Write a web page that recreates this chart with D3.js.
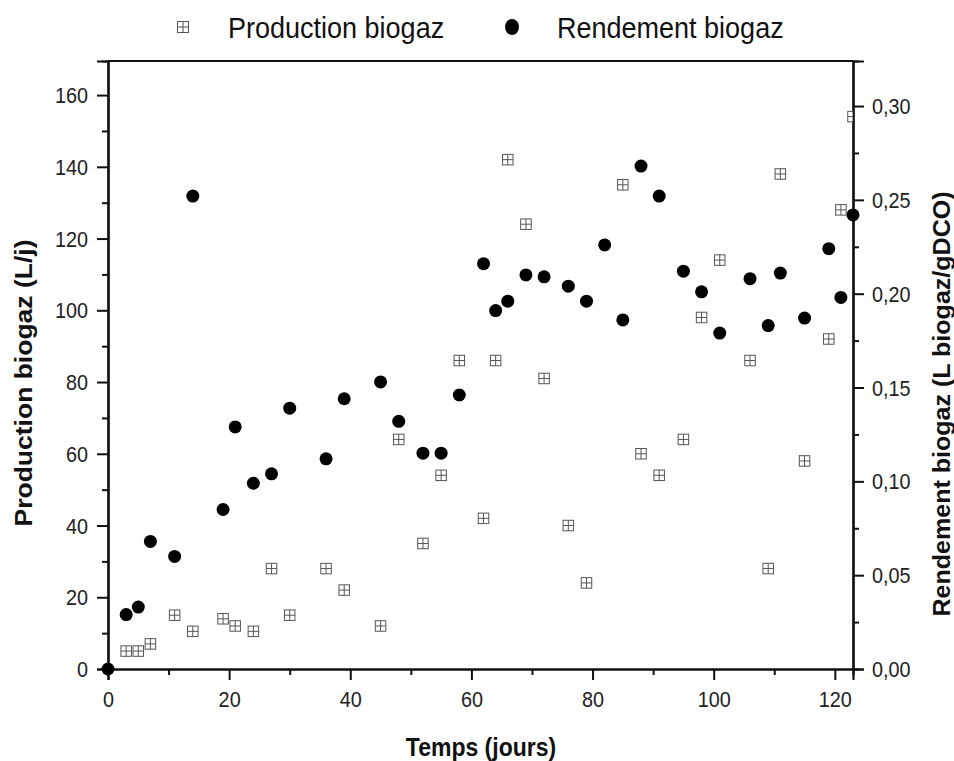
<!DOCTYPE html>
<html>
<head>
<meta charset="utf-8">
<script src="https://cdn.jsdelivr.net/npm/d3@7"></script>
<style>
    body { margin: 0; background: #fff; }
    svg text { font-family: "Liberation Sans", Arial, sans-serif; fill: #111; }
</style>
</head>
<body>
<div id="chart"></div>
<script>
// production biogaz (L/j)
let prodDays = [3, 5, 7, 11, 14, 19, 21, 24, 27, 30, 36, 39, 45, 48, 52, 55, 58, 62, 64, 66, 69, 72, 76, 79, 85, 88, 91, 95, 98, 101, 106, 109, 111, 115, 119, 121, 123];
let prodValues = [5, 5, 7, 15, 10.5, 14, 12, 10.5, 28, 15, 28, 22, 12, 64, 35, 54, 86, 42, 86, 142, 124, 81, 40, 24, 135, 60, 54, 64, 98, 114, 86, 28, 138, 58, 92, 128, 154];

// rendement biogaz (L biogaz/gDCO)
let rendDays = [0, 3, 5, 7, 11, 14, 19, 21, 24, 27, 30, 36, 39, 45, 48, 52, 55, 58, 62, 64, 66, 69, 72, 76, 79, 82, 85, 88, 91, 95, 98, 101, 106, 109, 111, 115, 119, 121, 123];
let rendValues = [0, 0.029, 0.033, 0.068, 0.060, 0.252, 0.085, 0.129, 0.099, 0.104, 0.139, 0.112, 0.144, 0.153, 0.132, 0.115, 0.115, 0.146, 0.216, 0.191, 0.196, 0.210, 0.209, 0.204, 0.196, 0.226, 0.186, 0.268, 0.252, 0.212, 0.201, 0.179, 0.208, 0.183, 0.211, 0.187, 0.224, 0.198, 0.242];

let xTicks = [0, 20, 40, 60, 80, 100, 120];
let leftTicks = [0, 20, 40, 60, 80, 100, 120, 140, 160];
let rightTicks = [0, 0.05, 0.10, 0.15, 0.20, 0.25, 0.30];

let legendLabels = ['Production biogaz', 'Rendement biogaz'];

let width = 954,
    height = 761,
    margin = { top: 61, right: 101, bottom: 92, left: 108 },
    w = width - margin.left - margin.right,
    h = height - margin.top - margin.bottom;

let svg = d3.select('#chart').append('svg')
    .attr('width', width)
    .attr('height', height);

let x = d3.scaleLinear().domain([0, 123]).range([0, w]);
let yLeft = d3.scaleLinear().domain([0, 169.5]).range([h, 0]);
let yRight = d3.scaleLinear().domain([0, 0.324]).range([h, 0]);

let comma = d3.formatLocale({ decimal: ',', thousands: ' ', grouping: [3], currency: ['', ''] }).format('.2f');

// the original text is a bit narrow and tall, squeeze it
function squeeze(sel, ratio) {
    sel.each(function() {
        let l = this.getComputedTextLength();
        d3.select(this).attr('textLength', l * ratio).attr('lengthAdjust', 'spacingAndGlyphs');
    });
}

let g = svg.append('g').attr('transform', 'translate(' + margin.left + ',' + margin.top + ')');

// minor ticks first, then major
function minor(axis, values) {
    return axis.tickValues(values).tickSize(6).tickFormat('');
}

g.append('g').attr('class', 'axis')
    .attr('transform', 'translate(0,' + h + ')')
    .call(minor(d3.axisBottom(x), d3.range(10, 123, 20)));
g.append('g').attr('class', 'axis xaxis')
    .attr('transform', 'translate(0,' + h + ')')
    .call(d3.axisBottom(x).tickValues(xTicks).tickSize(11).tickPadding(19));

g.append('g').attr('class', 'axis')
    .call(minor(d3.axisLeft(yLeft), d3.range(10, 170, 20)));
g.append('g').attr('class', 'axis')
    .call(d3.axisLeft(yLeft).tickValues(leftTicks).tickSize(11).tickPadding(9));

g.append('g').attr('class', 'axis')
    .attr('transform', 'translate(' + w + ',0)')
    .call(minor(d3.axisRight(yRight), d3.range(0.025, 0.32, 0.05)));
g.append('g').attr('class', 'axis')
    .attr('transform', 'translate(' + w + ',0)')
    .call(d3.axisRight(yRight).tickValues(rightTicks).tickSize(11).tickPadding(8).tickFormat(comma));

// top border
g.append('line')
    .attr('x1', 0).attr('x2', w)
    .attr('y1', 0).attr('y2', 0)
    .style('stroke', '#111').style('stroke-width', 2.2);

g.selectAll('.axis path').style('stroke', '#111').style('stroke-width', 2.2);
g.selectAll('.axis line').style('stroke', '#111').style('stroke-width', 2);
g.selectAll('.axis text').style('font-size', '22px').style('fill', '#222');
g.selectAll('.axis .tick text').attr('dy', null).style('dominant-baseline', 'central');
squeeze(g.selectAll('.axis .tick text'), 0.9);

g.append('clipPath').attr('id', 'plotclip')
    .append('rect').attr('width', w).attr('height', h);

function squareMarker(sel, size) {
    sel.append('rect')
        .attr('x', -size / 2).attr('y', -size / 2)
        .attr('width', size).attr('height', size)
        .style('fill', '#fff').style('stroke', '#555').style('stroke-width', 1);
    sel.append('line')
        .attr('x1', -size / 2).attr('x2', size / 2)
        .style('stroke', '#555').style('stroke-width', 1);
    sel.append('line')
        .attr('y1', -size / 2).attr('y2', size / 2)
        .style('stroke', '#555').style('stroke-width', 1);
}

let prodData = prodDays.map(function(d, i) { return { day: d, value: prodValues[i] }; });
let rendData = rendDays.map(function(d, i) { return { day: d, value: rendValues[i] }; });

g.append('g').attr('clip-path', 'url(#plotclip)')
    .selectAll('.square')
    .data(prodData)
    .enter()
    .append('g')
    .classed('square', true)
    .attr('transform', function(d) { return 'translate(' + x(d.day) + ',' + yLeft(d.value) + ')'; })
    .each(function() { squareMarker(d3.select(this), 10.5); });

g.append('g')
    .selectAll('circle')
    .data(rendData)
    .enter()
    .append('circle')
    .attr('cx', function(d) { return x(d.day); })
    .attr('cy', function(d) { return yRight(d.value); })
    .attr('r', 6.5)
    .style('fill', '#000');

// axis titles
svg.append('text')
    .attr('transform', 'translate(23,383) rotate(-90)')
    .attr('text-anchor', 'middle')
    .style('dominant-baseline', 'central')
    .style('font-size', '24px').style('font-weight', 'bold')
    .attr('textLength', 287).attr('lengthAdjust', 'spacingAndGlyphs')
    .text('Production biogaz (L/j)');

svg.append('text')
    .attr('transform', 'translate(941,404) rotate(-90)')
    .attr('text-anchor', 'middle')
    .style('dominant-baseline', 'central')
    .style('font-size', '24px').style('font-weight', 'bold')
    .attr('textLength', 425).attr('lengthAdjust', 'spacingAndGlyphs')
    .text('Rendement biogaz (L biogaz/gDCO)');

svg.append('text')
    .attr('x', 481).attr('y', 747)
    .attr('text-anchor', 'middle')
    .style('dominant-baseline', 'central')
    .style('font-size', '25px').style('font-weight', 'bold')
    .text('Temps (jours)')
    .call(squeeze, 0.92);

// legend
let legend = svg.append('g');
squareMarker(legend.append('g').attr('transform', 'translate(183,27)'), 11);
legend.append('text')
    .attr('x', 228).attr('y', 27)
    .style('dominant-baseline', 'central')
    .style('font-size', '30px')
    .text(legendLabels[0])
    .call(squeeze, 0.9);
legend.append('ellipse')
    .attr('cx', 512).attr('cy', 27)
    .attr('rx', 7).attr('ry', 8)
    .style('fill', '#000');
legend.append('text')
    .attr('x', 557).attr('y', 27)
    .style('dominant-baseline', 'central')
    .style('font-size', '30px')
    .text(legendLabels[1])
    .call(squeeze, 0.9);
</script>
</body>
</html>
